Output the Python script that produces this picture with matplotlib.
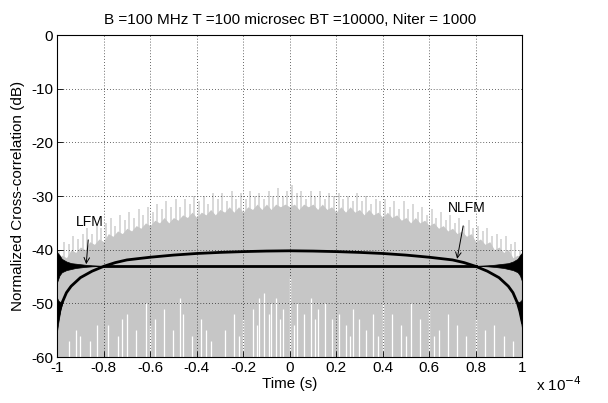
import numpy as np
import matplotlib
matplotlib.use('Agg')
import matplotlib.pyplot as plt

plt.rcParams['font.family'] = ['Liberation Sans', 'DejaVu Sans']
plt.rcParams['axes.unicode_minus'] = False
plt.rcParams['font.size'] = 11

# time axis in units of 1e-4 s
# dense body of the cross-correlation (grey)
env_t = [round(-1 + 0.02 * i, 2) for i in range(101)]
env_db = [-42, -41, -41.5, -40, -40.5, -39.5, -40, -38.5, -39, -38,
          -38.5, -37, -37.5, -36.5, -37, -36, -36.5, -35.5, -36, -35,
          -35.5, -34.5, -35, -34, -35, -34, -34.5, -33.5, -34, -33,
          -34, -33, -33.5, -32.5, -33.5, -32.5, -33, -32, -33, -32,
          -33, -32, -32.5, -31.5, -32.5, -31.5, -32.5, -31.5, -32, -31.5,
          -32, -31.5, -32.5, -31.5, -32, -31.5, -32.5, -31.5, -32.5, -32,
          -33, -32, -33, -32, -33, -32.5, -33.5, -32.5, -33.5, -33,
          -34, -33, -34, -33.5, -34.5, -34, -35, -34, -35, -34.5,
          -35.5, -35, -36, -35.5, -36.5, -36, -37, -36.5, -37.5, -37,
          -38.5, -38, -39, -38.5, -40, -39.5, -40.5, -40, -41.5, -41,
          -42]

# lighter spikes poking above the body
spk_t = [round(-0.99 + 0.02 * i, 2) for i in range(100)]
spk_db = [-40, -38.5, -39, -37.5, -38, -37, -36, -37, -35.5, -36,
          -35, -34, -35.5, -33.5, -34.5, -33, -34, -32.5, -33.5, -32,
          -33, -31.5, -32.5, -31, -32, -30.5, -32, -30.5, -31.5, -30,
          -31, -30, -31.5, -29.5, -30.5, -29.5, -31, -29, -30.5, -29.5,
          -30.5, -29, -30, -29.5, -30.5, -29, -30, -28.5, -30, -29,
          -28, -29.5, -29, -30.5, -29, -30, -29, -30.5, -29.5, -30,
          -29.5, -30.5, -30, -31, -29.5, -31, -30, -31.5, -30.5, -31,
          -30.5, -32, -31, -32.5, -31, -32.5, -31.5, -33, -32, -33.5,
          -32.5, -34, -33, -34.5, -33.5, -35, -34, -35.5, -34.5, -36,
          -35.5, -36.5, -36, -37.5, -37, -38, -37.5, -39, -38.5, -40]

# white dips rising from the floor
dip_t = [-0.95, -0.92, -0.90, -0.86, -0.83, -0.78, -0.74, -0.72, -0.70, -0.66,
         -0.62, -0.60, -0.58, -0.54, -0.50, -0.47, -0.46, -0.42, -0.38, -0.36,
         -0.34, -0.28, -0.24, -0.22, -0.20, -0.16, -0.14, -0.13, -0.11, -0.09,
         -0.08, -0.06, -0.04, -0.03, 0.00, 0.02, 0.03, 0.06, 0.09, 0.11,
         0.12, 0.15, 0.18, 0.21, 0.24, 0.26, 0.27, 0.30, 0.33, 0.36,
         0.38, 0.40, 0.44, 0.48, 0.50, 0.52, 0.56, 0.60, 0.62, 0.64,
         0.68, 0.72, 0.76, 0.80, 0.84, 0.88, 0.92, 0.96]
dip_db = [-57, -55, -56, -57, -54, -54, -56, -53, -52, -55,
          -50, -54, -53, -51, -55, -49, -52, -56, -53, -55,
          -57, -55, -52, -56, -53, -51, -54, -49, -48, -52,
          -50, -49, -53, -51, -45, -54, -50, -52, -49, -53,
          -51, -50, -53, -52, -54, -56, -51, -53, -55, -52,
          -56, -50, -52, -54, -56, -50, -53, -51, -56, -55,
          -52, -54, -56, -53, -55, -54, -56, -57]

# LFM: flat line with ripple envelope near the edges
lfm_t = [-1, -0.99, -0.98, -0.96, -0.94, -0.92, -0.90, -0.88, -0.85, -0.80,
         0.80, 0.85, 0.88, 0.90, 0.92, 0.94, 0.96, 0.98, 0.99, 1]
lfm_hi = [-40.5, -41, -41.7, -42.2, -42.5, -42.6, -42.7, -42.8, -42.9, -43,
          -43, -42.9, -42.8, -42.7, -42.6, -42.5, -42.2, -41.7, -41, -40.5]
lfm_lo = [-46, -44.8, -44.2, -43.8, -43.6, -43.4, -43.3, -43.2, -43.1, -43,
          -43, -43.1, -43.2, -43.3, -43.4, -43.6, -43.8, -44.2, -44.8, -46]

# NLFM: arc
nlfm_t = [-1, -0.99, -0.98, -0.96, -0.94, -0.90, -0.85, -0.80, -0.75, -0.70,
          -0.60, -0.50, -0.40, -0.30, -0.20, -0.10, 0, 0.10, 0.20, 0.30,
          0.40, 0.50, 0.60, 0.70, 0.75, 0.80, 0.85, 0.90, 0.94, 0.96,
          0.98, 0.99, 1]
nlfm_db = [-53.5, -51.5, -50, -48, -46.8, -45.2, -44, -43.1, -42.4, -41.9,
           -41.4, -41.0, -40.7, -40.5, -40.35, -40.25, -40.2, -40.25, -40.35, -40.5,
           -40.7, -41.0, -41.4, -41.9, -42.4, -43.1, -44, -45.2, -46.8, -48,
           -50, -51.5, -53.5]
nlfm_edge_t = [-1, -0.995, -0.985, -0.975, 0.975, 0.985, 0.995, 1]
nlfm_edge_hi = [-49, -49.5, -49.8, -49.5, -49.5, -49.8, -49.5, -49]
nlfm_edge_lo = [-55, -53.5, -51, -49.5, -49.5, -51, -53.5, -55]

fig = plt.figure(figsize=(6.08, 4.03), dpi=100)
ax = fig.add_axes([0.094, 0.114, 0.765, 0.799])

ax.vlines(spk_t, -60, spk_db, color='#d6d6d6', lw=1.3, zorder=1)
ax.fill_between(env_t, -60, env_db, color='#c6c6c6', lw=0, zorder=1.5)
ax.vlines(dip_t, -60, dip_db, color='white', lw=0.9, zorder=2)

ax.plot([-0.8, 0.8], [-43, -43], color='black', lw=2, zorder=4)
ax.fill_between(lfm_t[:10], lfm_lo[:10], lfm_hi[:10], color='black', lw=0.5, zorder=4)
ax.fill_between(lfm_t[10:], lfm_lo[10:], lfm_hi[10:], color='black', lw=0.5, zorder=4)
ax.plot(nlfm_t, nlfm_db, color='black', lw=2, zorder=4)
ax.fill_between(nlfm_edge_t[:4], nlfm_edge_lo[:4], nlfm_edge_hi[:4], color='black', lw=0.5, zorder=4)
ax.fill_between(nlfm_edge_t[4:], nlfm_edge_lo[4:], nlfm_edge_hi[4:], color='black', lw=0.5, zorder=4)

ax.annotate('LFM', xy=(-0.875, -42.7), xytext=(-0.86, -34.8), ha='center', va='center',
            fontsize=10, arrowprops=dict(arrowstyle='->', color='black', lw=0.7,
                                         shrinkA=6, shrinkB=0), zorder=5)
ax.annotate('NLFM', xy=(0.72, -41.7), xytext=(0.76, -32.2), ha='center', va='center',
            fontsize=10, arrowprops=dict(arrowstyle='->', color='black', lw=0.7,
                                         shrinkA=6, shrinkB=0), zorder=5)

ax.set_xlim(-1, 1)
ax.set_ylim(-60, 0)
xt = [round(-1 + 0.2 * i, 1) for i in range(11)]
ax.set_xticks(xt)
ax.set_xticklabels(['%g' % v for v in xt])
ax.set_yticks(range(-60, 1, 10))
ax.tick_params(axis='x', direction='in', length=4, width=0.6, pad=3)
ax.tick_params(axis='y', direction='in', length=4, width=0.6, pad=3)
ax.grid(True, color='black', linestyle=(0, (1, 2.5)), lw=0.6, alpha=0.8)
ax.set_axisbelow(False)
for s in ax.spines.values():
    s.set_linewidth(0.8)

ax.set_xlabel('Time (s)', labelpad=1)
ax.set_ylabel('Normalized Cross-correlation (dB)', labelpad=4)
ax.set_title('B =100 MHz T =100 microsec BT =10000, Niter = 1000', fontsize=11, pad=8)
fig.text(0.92, 0.045, r'x 10$^{-4}$', fontsize=11, ha='center', va='center')

fig.savefig('out.png', dpi=100)
